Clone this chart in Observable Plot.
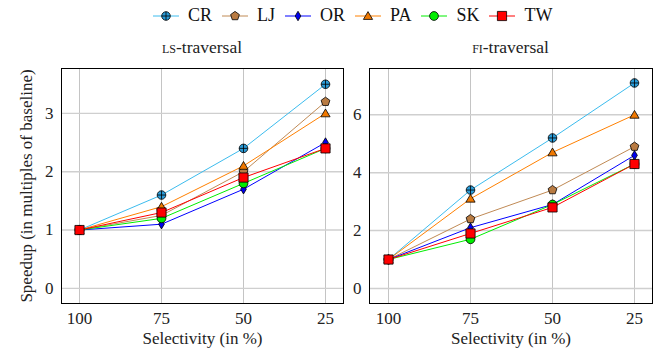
<!DOCTYPE html>
<html>
<head>
<meta charset="utf-8">
<script src="https://cdn.jsdelivr.net/npm/d3@7"></script>
<script src="https://cdn.jsdelivr.net/npm/@observablehq/plot@0.6"></script>
<style>
  html, body { margin: 0; padding: 0; background: #fff; }
  #wrap { position: relative; width: 659px; height: 352px; font-family: "Liberation Serif", "DejaVu Serif", serif; overflow: hidden; }
  .panel { position: absolute; top: 0; }
  .title { position: absolute; top: 37px; font-size: 17.5px; text-align: center; color: #222; }
  .sc { font-variant: small-caps; }
  #legend { position: absolute; top: 5px; left: 153px; display: flex; align-items: center; font-size: 18px; color: #111; }
  .item { display: flex; align-items: center; margin-right: 10px; }
  .item svg { margin-right: 9px; }
</style>
</head>
<body>
<div id="wrap">
  <div id="legend"></div>
  <div id="left" class="panel" style="left:0px"></div>
  <div id="right" class="panel" style="left:350px"></div>
  <div class="title" style="left:61px;width:282px"><span class="sc">ls</span>-traversal</div>
  <div class="title" style="left:369px;width:283px"><span class="sc">fi</span>-traversal</div>
</div>
<script>
// ---- data ----
const selectivity = ["100", "75", "50", "25"];
const series = ["CR", "LJ", "OR", "PA", "SK", "TW"];

const ls_CR = [1.0, 1.6, 2.4, 3.5];
const ls_LJ = [1.0, 1.25, 2.0, 3.2];
const ls_OR = [1.0, 1.1, 1.7, 2.5];
const ls_PA = [1.0, 1.4, 2.1, 3.0];
const ls_SK = [1.0, 1.2, 1.8, 2.4];
const ls_TW = [1.0, 1.3, 1.9, 2.4];

const fi_CR = [1.0, 3.4, 5.2, 7.1];
const fi_LJ = [1.0, 2.4, 3.4, 4.9];
const fi_OR = [1.0, 2.1, 2.9, 4.6];
const fi_PA = [1.0, 3.1, 4.7, 6.0];
const fi_SK = [1.0, 1.7, 2.9, 4.3];
const fi_TW = [1.0, 1.9, 2.8, 4.3];

const lsTicks = [0, 1, 2, 3];
const fiTicks = [0, 2, 4, 6];

// ---- styles ----
const symOplus = { draw(ctx, size) { const r = Math.sqrt(size / Math.PI);
  ctx.moveTo(r, 0); ctx.arc(0, 0, r, 0, 2 * Math.PI);
  ctx.moveTo(-r, 0); ctx.lineTo(r, 0); ctx.moveTo(0, -r); ctx.lineTo(0, r); } };
const symPentagon = { draw(ctx, size) { const r = Math.sqrt(size / Math.PI);
  for (let i = 0; i < 5; i++) { const a = -Math.PI / 2 + i * 2 * Math.PI / 5;
    const x = r * Math.cos(a), y = r * Math.sin(a); i ? ctx.lineTo(x, y) : ctx.moveTo(x, y); }
  ctx.closePath(); } };
const symDiamond = { draw(ctx, size) { const r = Math.sqrt(size / Math.PI);
  ctx.moveTo(0, -r * 1.25); ctx.lineTo(r * 0.75, 0); ctx.lineTo(0, r * 1.25); ctx.lineTo(-r * 0.75, 0); ctx.closePath(); } };
const symTriangle = { draw(ctx, size) { const r = Math.sqrt(size / Math.PI);
  ctx.moveTo(0, -r * 1.1); ctx.lineTo(r * 1.15, r * 0.85); ctx.lineTo(-r * 1.15, r * 0.85); ctx.closePath(); } };
const symCircle = { draw(ctx, size) { const r = Math.sqrt(size / Math.PI); ctx.moveTo(r, 0); ctx.arc(0, 0, r, 0, 2 * Math.PI); } };
const symSquare = { draw(ctx, size) { const r = Math.sqrt(size / Math.PI); ctx.rect(-r, -r, 2 * r, 2 * r); } };

const style = {
  CR: { line: "#3cbcee", fill: "#2a9ad6", sym: symOplus, r: 4.3 },
  LJ: { line: "#c08a55", fill: "#b97b42", sym: symPentagon, r: 4.6 },
  OR: { line: "#0000ff", fill: "#0000ee", sym: symDiamond, r: 3.8 },
  PA: { line: "#ff8000", fill: "#f07800", sym: symTriangle, r: 4.0 },
  SK: { line: "#00ee00", fill: "#00ee00", sym: symCircle, r: 4.4 },
  TW: { line: "#ff0000", fill: "#ff0000", sym: symSquare, r: 4.6 }
};

function rows(arrs) {
  const out = [];
  series.forEach((s, i) => arrs[i].forEach((v, j) => out.push({ series: s, sel: selectivity[j], v })));
  return out;
}
const lsData = rows([ls_CR, ls_LJ, ls_OR, ls_PA, ls_SK, ls_TW]);
const fiData = rows([fi_CR, fi_LJ, fi_OR, fi_PA, fi_SK, fi_TW]);

function panel(data, opts) {
  const marks = [
    Plot.gridX({ stroke: "#c4c4c4", strokeOpacity: 1, strokeWidth: 1 }),
    Plot.gridY(opts.ticks, { stroke: "#cfcfcf", strokeOpacity: 1, strokeWidth: 1.4 }),
    Plot.axisX({ tickSize: 0, tickPadding: 8, label: "Selectivity (in %)", labelAnchor: "center", labelOffset: 40, labelArrow: "none", fill: "#222" }),
    Plot.axisY(opts.ticks, { tickSize: 0, tickPadding: 8, tickFormat: "d", label: opts.ylabel, labelAnchor: "center", labelOffset: 42, labelArrow: "none", fill: "#222" })
  ];
  for (const s of series) {
    const d = data.filter(r => r.series === s);
    const st = style[s];
    marks.push(Plot.line(d, { x: "sel", y: "v", stroke: st.line, strokeWidth: 1 }));
    marks.push(Plot.dot(d, { x: "sel", y: "v", symbol: () => st.sym, r: st.r, fill: st.fill, stroke: "#000", strokeWidth: 0.8 }));
  }
  marks.push(Plot.frame({ stroke: "#000", strokeWidth: 1 }));
  return Plot.plot({
    width: opts.width, height: 352,
    marginTop: 68, marginBottom: 49, marginLeft: opts.marginLeft, marginRight: 7,
    x: { type: "point", domain: selectivity, inset: 18, padding: 0 },
    y: { domain: opts.domain },
    symbol: { type: "identity" },
    style: { fontFamily: '"Liberation Serif", "DejaVu Serif", serif', fontSize: "17px", background: "transparent", color: "#222" },
    marks
  });
}

document.getElementById("left").append(panel(lsData, { width: 350, marginLeft: 61, domain: [-0.26, 3.77], ticks: lsTicks, ylabel: "Speedup (in multiples of baseline)" }));
document.getElementById("right").append(panel(fiData, { width: 309, marginLeft: 19, domain: [-0.52, 7.6], ticks: fiTicks, ylabel: null }));

// ---- legend ----
const legend = d3.select("#legend");
for (const s of series) {
  const st = style[s];
  const item = legend.append("div").attr("class", "item");
  const svg = item.append("svg").attr("width", 26).attr("height", 16);
  svg.append("line").attr("x1", 0).attr("x2", 26).attr("y1", 8).attr("y2", 8).attr("stroke", st.line).attr("stroke-width", 1);
  svg.append("path").attr("transform", "translate(13,8)")
    .attr("d", d3.symbol(st.sym, Math.PI * st.r * st.r)())
    .attr("fill", st.fill).attr("stroke", "#000").attr("stroke-width", 0.8);
  item.append("span").text(s);
}
</script>
</body>
</html>
